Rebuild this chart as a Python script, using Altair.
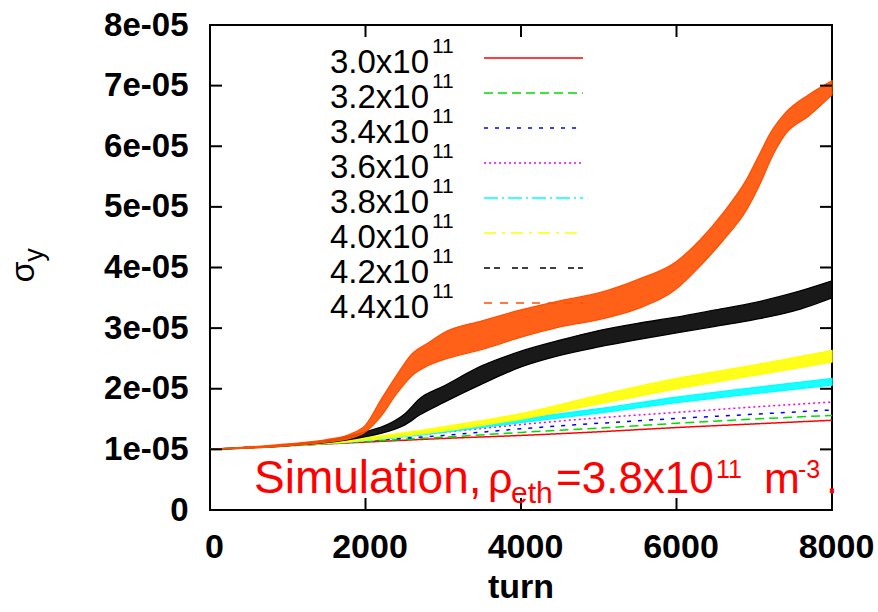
import altair as alt
import pandas as pd

FONT = "Liberation Sans, Arial, Helvetica, sans-serif"

# ---------------- data (sigma_y in units of 1e-05) ----------------
turns = [0, 1000, 2000, 3000, 4000, 5000, 6000, 7000, 8000]
sig_30 = [1.00, 1.06, 1.12, 1.18, 1.23, 1.29, 1.36, 1.42, 1.48]
sig_32 = [1.00, 1.06, 1.13, 1.20, 1.28, 1.35, 1.43, 1.50, 1.56]
sig_34 = [1.00, 1.07, 1.14, 1.23, 1.34, 1.43, 1.51, 1.58, 1.65]
sig_36 = [1.00, 1.07, 1.16, 1.28, 1.41, 1.52, 1.61, 1.70, 1.78]

# oscillating series: lower / upper envelope of the band
sig_38_lo = [1.00, 1.06, 1.14, 1.28, 1.44, 1.60, 1.77, 1.92, 2.06]
sig_38_hi = [1.00, 1.07, 1.17, 1.32, 1.50, 1.67, 1.86, 2.02, 2.17]
sig_40_lo = [1.00, 1.06, 1.15, 1.30, 1.50, 1.75, 2.00, 2.22, 2.44]
sig_40_hi = [1.00, 1.07, 1.19, 1.37, 1.59, 1.89, 2.17, 2.39, 2.63]

turns_42 = [0, 1000, 1500, 2000, 2300, 2500, 2700, 3000, 3500, 4000, 4500, 5000,
            5500, 6000, 6500, 7000, 7500, 8000]
sig_42_lo = [1.00, 1.06, 1.11, 1.21, 1.30, 1.40, 1.57, 1.77, 2.08, 2.36, 2.55, 2.69,
             2.81, 2.92, 3.03, 3.14, 3.28, 3.50]
sig_42_hi = [1.00, 1.08, 1.15, 1.29, 1.42, 1.58, 1.84, 2.04, 2.38, 2.62, 2.80, 2.96,
             3.08, 3.18, 3.30, 3.42, 3.58, 3.78]

turns_44 = [0, 500, 1000, 1500, 1800, 2000, 2200, 2400, 2600, 2800, 3000, 3500, 4000,
            4500, 5000, 5500, 6000, 6300, 6600, 6900, 7100, 7200, 7400, 7700, 8000]
sig_44_lo = [1.00, 1.02, 1.06, 1.12, 1.18, 1.29, 1.55, 1.92, 2.22, 2.38, 2.48, 2.65, 2.85,
             3.02, 3.14, 3.32, 3.65, 4.02, 4.45, 4.95, 5.45, 5.75, 6.20, 6.50, 6.85]
sig_44_hi = [1.00, 1.04, 1.09, 1.16, 1.25, 1.40, 1.82, 2.22, 2.58, 2.75, 2.92, 3.12, 3.30,
             3.45, 3.58, 3.80, 4.10, 4.45, 4.90, 5.45, 5.95, 6.20, 6.55, 6.85, 7.08]

names = ["3.0", "3.2", "3.4", "3.6", "3.8", "4.0", "4.2", "4.4"]
legend_main = ["3.0x10", "3.2x10", "3.4x10", "3.6x10", "3.8x10", "4.0x10", "4.2x10", "4.4x10"]
legend_sup = "11"
colors = ["#ff0000", "#00dd00", "#0000ff", "#ee00ee", "#00ffff", "#ffff00", "#000000", "#ff5000"]
dashes = [[1, 0], [9, 5], [4, 7], [2, 3], [14, 4, 2, 4], [12, 6, 3, 6], [6, 4, 6, 12], [8, 8]]

x_ticks = [0, 2000, 4000, 6000, 8000]
y_ticks = [0, 1e-05, 2e-05, 3e-05, 4e-05, 5e-05, 6e-05, 7e-05, 8e-05]

# ---------------- layout ----------------
W, H = 622, 485
PL, PT = 210, 25

xs = alt.Scale(domain=[0, 8000], nice=False, zero=False)
ys = alt.Scale(domain=[0, 8e-05], nice=False, zero=False)
x_axis = alt.Axis(values=x_ticks, ticks=False, tickSize=0, domain=False, grid=False,
                  title=None, format="d", labelFontSize=34, labelFontWeight="bold", labelFont=FONT,
                  labelPadding=20, labelFlush=False, labelOverlap=False, labelOffset=4,
                  labelColor="black")
y_axis = alt.Axis(values=y_ticks, ticks=False, tickSize=0, domain=False, grid=False,
                  title=None, labelFontSize=33, labelFontWeight="bold", labelFont=FONT,
                  labelPadding=22, labelOverlap=False, labelColor="black",
                  labelExpr="datum.value == 0 ? '0' : replace(format(datum.value, '.0e'), 'e-', 'e-0')")


def X(field):
    return alt.X(field, type="quantitative", scale=xs, axis=x_axis)


def Y(field):
    return alt.Y(field, type="quantitative", scale=ys, axis=y_axis)


layers = []

# legend (drawn first, data drawn over it)
for i in range(8):
    layers.append(
        alt.Chart(pd.DataFrame({"t": [legend_main[i]]})).mark_text(
            align="right", baseline="alphabetic", fontSize=33, font=FONT, color="black"
        ).encode(text="t:N", x=alt.value(429 - PL), y=alt.value(73 + 35 * i - PT))
    )
    layers.append(
        alt.Chart(pd.DataFrame({"t": [legend_sup]})).mark_text(
            align="left", baseline="alphabetic", fontSize=21, font=FONT, color="black"
        ).encode(text="t:N", x=alt.value(432 - PL), y=alt.value(53 + 35 * i - PT))
    )
    layers.append(
        alt.Chart(pd.DataFrame({"s": [names[i]]})).mark_rule(
            color=colors[i], strokeDash=dashes[i], strokeWidth=1.5
        ).encode(x=alt.value(484 - PL), x2=alt.value(583 - PL), y=alt.value(58 + 35 * i - PT))
    )

# thin curves
rows = []
for nm, vals in zip(names[:4], [sig_30, sig_32, sig_34, sig_36]):
    for t, v in zip(turns, vals):
        rows.append({"turn": t, "sigma": v * 1e-05, "series": nm})
df_thin = pd.DataFrame(rows)

for i in range(4):
    layers.append(
        alt.Chart(df_thin[df_thin.series == names[i]]).mark_line(
            color=colors[i], strokeDash=dashes[i], strokeWidth=1.5, interpolate="monotone"
        ).encode(x=X("turn"), y=Y("sigma"))
    )

# oscillating bands
bands = [
    (turns, sig_38_lo, sig_38_hi, colors[4]),
    (turns, sig_40_lo, sig_40_hi, colors[5]),
    (turns_42, sig_42_lo, sig_42_hi, colors[6]),
    (turns_44, sig_44_lo, sig_44_hi, colors[7]),
]
for tt, lo, hi, c in bands:
    dfb = pd.DataFrame({"turn": tt, "lo": [v * 1e-05 for v in lo], "hi": [v * 1e-05 for v in hi]})
    layers.append(
        alt.Chart(dfb).mark_area(
            color=c, fillOpacity=0.9, stroke=c, strokeWidth=1.3, strokeOpacity=1,
            interpolate="monotone"
        ).encode(x=X("turn"), y=Y("lo"), y2="hi:Q")
    )

# inward ticks on all four sides
df_xt = pd.DataFrame({"turn": x_ticks})
df_yt = pd.DataFrame({"sigma": y_ticks})
TL = 12
layers.append(alt.Chart(df_xt).mark_rule(color="black", strokeWidth=2).encode(
    x=X("turn"), y=alt.value(H), y2=alt.value(H - TL)))
layers.append(alt.Chart(df_xt).mark_rule(color="black", strokeWidth=2).encode(
    x=X("turn"), y=alt.value(0), y2=alt.value(TL)))
layers.append(alt.Chart(df_yt).mark_rule(color="black", strokeWidth=2).encode(
    y=Y("sigma"), x=alt.value(0), x2=alt.value(TL)))
layers.append(alt.Chart(df_yt).mark_rule(color="black", strokeWidth=2).encode(
    y=Y("sigma"), x=alt.value(W), x2=alt.value(W - TL)))

# annotation (red)
ann = [
    ("Simulation,", 254, 493, 46),
    ("ρ", 488, 493, 43),
    ("eth", 511, 503, 30),
    ("=3.8x10", 556, 493, 44),
    ("11", 716, 478, 25),
    ("m", 764, 493, 43),
    ("-3", 798, 478, 25),
    (".", 826, 493, 43),
]
for txt, px, py, fs in ann:
    layers.append(
        alt.Chart(pd.DataFrame({"t": [txt]})).mark_text(
            align="left", baseline="alphabetic", fontSize=fs, font=FONT, color="#ff0000"
        ).encode(text="t:N", x=alt.value(px - PL), y=alt.value(py - PT))
    )

# axis titles
layers.append(
    alt.Chart(pd.DataFrame({"t": ["turn"]})).mark_text(
        align="center", baseline="alphabetic", fontSize=34, fontWeight="bold", font=FONT, color="black"
    ).encode(text="t:N", x=alt.value(521 - PL), y=alt.value(598 - PT))
)
layers.append(
    alt.Chart(pd.DataFrame({"t": ["σ"]})).mark_text(
        align="center", baseline="alphabetic", fontSize=34, font=FONT, color="black", angle=270
    ).encode(text="t:N", x=alt.value(34 - PL), y=alt.value(272 - PT))
)
layers.append(
    alt.Chart(pd.DataFrame({"t": ["y"]})).mark_text(
        align="center", baseline="alphabetic", fontSize=27, font=FONT, color="black", angle=270
    ).encode(text="t:N", x=alt.value(43 - PL), y=alt.value(255 - PT))
)

chart = alt.layer(*layers).properties(
    width=W, height=H,
    autosize=alt.AutoSizeParams(type="none"),
    padding={"left": PL, "top": PT, "right": 878 - PL - W, "bottom": 612 - PT - H},
    background="white",
).configure_view(stroke="black", strokeWidth=2)

chart.save("out.html", embed_options={"renderer": "svg", "actions": False})
